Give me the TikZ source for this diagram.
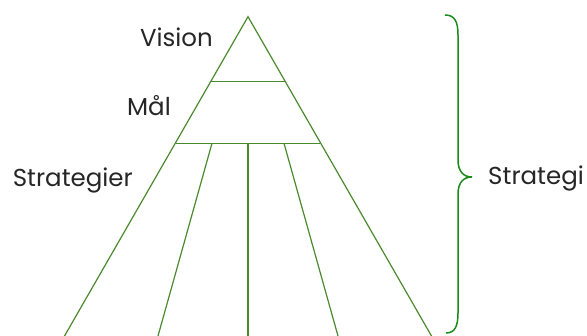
\documentclass[tikz,border=0pt]{standalone}
\usepackage{fontspec}
\setmainfont{Poppins}
\definecolor{tri}{HTML}{4A8A2C}
\definecolor{brc}{HTML}{1A8C1A}
\begin{document}
\begin{tikzpicture}[x=1pt,y=-1pt,
  triline/.style={draw=tri,line width=1.2pt},
  lbl/.style={inner sep=0pt,anchor=base east,font=\fontsize{24.5}{28}\selectfont,text=black!85}]
\useasboundingbox (0,0) rectangle (587,336);
\coordinate (A) at (248,16.7);
\coordinate (L1) at (210.3,81.7);
\coordinate (R1) at (285.7,81.7);
\coordinate (L2) at (175.7,143.3);
\coordinate (R2) at (320.3,143.3);
\coordinate (BL) at (64.5,336);
\coordinate (BR) at (431.5,336);
\coordinate (I1t) at (212,143.3);
\coordinate (I1b) at (158,336);
\coordinate (I2t) at (248,143.3);
\coordinate (I2b) at (248,336);
\coordinate (I3t) at (284,143.3);
\coordinate (I3b) at (338,336);
\draw[triline] (BL) -- (A) -- (BR);
\draw[triline] (L1) -- (R1);
\draw[triline] (L2) -- (R2);
\draw[triline] (I1t) -- (I1b);
\draw[triline] (I2t) -- (I2b);
\draw[triline] (I3t) -- (I3b);
\coordinate (bt) at (445,15);
\coordinate (bm) at (472,177);
\coordinate (bb) at (446,333);
\draw[brc,line width=1.5pt] (bt) .. controls (455,15) and (458,22) .. (458,35)
  -- (458,160) .. controls (458,172) and (464,177) .. (bm)
  .. controls (464,177) and (458,182) .. (458,194)
  -- (458,313) .. controls (458,326) and (455,333) .. (bb);
\node[lbl] (vision) at (213,46.5) {Vision};
\node[lbl] (maal) at (171,116) {Mål};
\node[lbl] (strat) at (133,186.5) {Strategier};
\node[lbl,anchor=base west] (strat2) at (488,185) {Strategi};
\end{tikzpicture}
\end{document}
